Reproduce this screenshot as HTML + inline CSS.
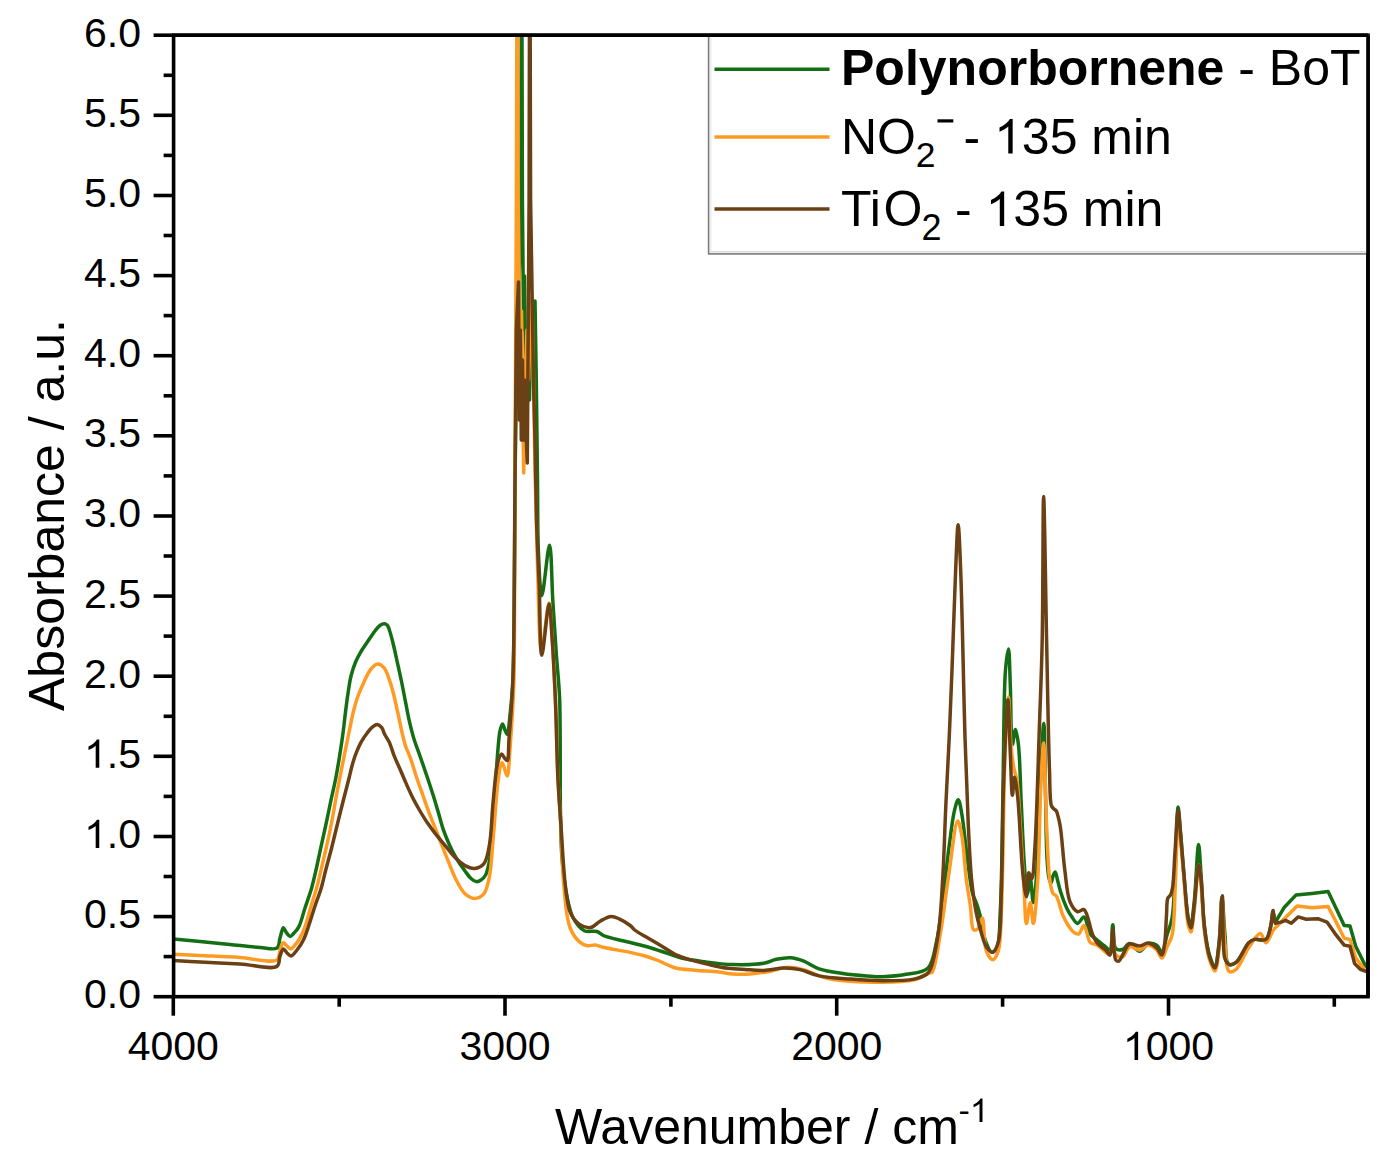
<!DOCTYPE html>
<html><head><meta charset="utf-8"><style>
html,body{margin:0;padding:0;background:#fff;}
svg{display:block;}
text{font-family:"Liberation Sans",sans-serif;fill:#000;}
</style></head><body>
<svg width="1391" height="1173" viewBox="0 0 1391 1173">
<defs><clipPath id="pc"><rect x="173.6" y="35.2" width="1194.4" height="961.5"/></clipPath></defs>
<rect width="1391" height="1173" fill="#fff"/>
<g clip-path="url(#pc)" fill="none" stroke-width="3.5" stroke-linejoin="round" stroke-linecap="round">
<path d="M173.5,939.0 C173.5,939.0 190.9,940.6 200.0,941.5 C209.7,942.4 220.0,943.5 230.0,944.5 C240.0,945.5 251.4,946.9 260.0,947.5 C266.5,947.9 273.8,950.3 277.0,948.0 C279.5,946.2 279.0,941.4 280.0,938.0 C281.1,934.6 282.1,927.9 283.3,927.7 C284.1,927.6 284.9,930.6 286.0,932.0 C287.2,933.5 288.8,936.3 290.2,936.4 C291.5,936.5 292.7,934.4 294.0,933.0 C295.6,931.3 297.3,929.6 298.8,926.8 C301.2,922.4 302.9,914.3 305.0,908.0 C307.1,901.5 309.6,894.9 311.5,888.4 C313.3,882.2 314.6,876.3 316.0,870.0 C317.5,863.5 318.8,857.0 320.3,850.0 C322.0,842.1 324.0,833.3 325.8,825.0 C327.6,816.7 329.3,808.1 331.0,800.0 C332.6,792.4 334.4,785.3 335.8,778.0 C337.2,770.7 338.4,763.4 339.6,756.0 C340.8,748.4 342.0,740.8 343.0,733.0 C344.1,724.8 345.0,715.6 346.0,708.0 C346.8,701.5 347.6,695.6 348.5,690.0 C349.3,685.0 349.8,680.7 351.0,676.0 C352.3,671.0 354.1,665.4 356.0,661.0 C357.5,657.4 359.3,654.4 361.0,651.5 C362.6,648.8 364.3,646.5 366.0,644.0 C367.8,641.4 369.7,638.4 371.4,636.0 C372.8,634.0 373.9,632.2 375.3,630.5 C376.7,628.7 378.2,626.6 379.9,625.5 C381.3,624.5 383.2,623.7 384.5,623.8 C385.6,623.9 386.6,624.5 387.5,625.5 C388.9,627.1 389.6,630.9 390.6,634.0 C391.7,637.6 392.7,641.8 393.7,646.0 C394.8,650.5 395.7,654.9 396.8,660.0 C398.2,666.2 399.9,673.7 401.3,680.5 C402.7,687.3 404.0,694.1 405.3,700.9 C406.7,707.7 407.9,714.9 409.4,721.4 C410.8,727.4 412.1,732.9 413.9,738.7 C415.8,744.9 418.4,751.3 420.5,757.5 C422.6,763.4 424.5,769.0 426.5,775.0 C428.7,781.4 431.0,788.4 433.1,795.0 C435.1,801.3 436.9,807.7 438.7,813.7 C440.3,819.3 441.6,824.6 443.4,829.9 C445.2,835.1 447.4,840.3 449.5,845.0 C451.4,849.3 453.2,852.9 455.6,857.0 C458.3,861.6 462.1,867.1 465.0,871.0 C467.2,873.9 468.9,876.7 471.0,878.5 C472.7,880.0 474.5,881.4 476.3,881.6 C477.9,881.8 479.6,880.9 481.0,880.0 C482.7,878.9 484.4,877.2 485.6,875.0 C487.3,872.0 488.1,867.2 489.0,863.0 C490.0,858.5 490.6,855.1 491.3,848.8 C492.7,836.3 493.8,809.8 495.0,792.5 C496.0,777.7 496.8,762.6 497.8,751.3 C498.5,743.3 498.9,736.0 500.0,731.0 C500.7,728.0 501.6,724.0 502.5,724.0 C503.3,724.0 504.2,728.2 505.0,730.0 C505.7,731.6 506.6,734.5 507.2,734.4 C508.5,734.2 509.2,722.7 510.0,715.3 C511.1,705.3 512.2,695.3 512.9,680.0 C514.2,651.9 514.1,597.1 514.5,560.0 L515.2,470.0 L516.0,400.0 L517.0,340.0 L518.5,310.0 L520.8,200.0 L521.3,0.0 L521.9,0.0 L522.4,200.0 L523.6,330.0 L524.5,276.0 L525.5,360.0 L526.5,420.0 L527.5,360.0 L528.5,330.0 L529.5,400.0 L530.5,340.0 L532.0,310.0 L533.5,350.0 L535.0,301.0 L536.3,380.0 L537.5,480.0 C537.8,505.7 537.5,531.0 538.4,551.2 C539.1,567.7 540.1,595.4 541.8,595.5 C543.7,595.6 547.7,545.1 549.5,545.2 C551.5,545.3 551.7,583.8 552.9,602.3 C554.0,619.8 555.1,636.8 556.3,653.5 C557.4,669.4 558.9,680.9 559.7,700.0 C560.6,722.4 559.9,790.8 560.6,820.0 C561.0,836.7 561.0,846.6 562.1,859.5 C563.2,871.9 564.7,885.3 566.9,895.9 C568.6,904.3 569.9,911.9 573.2,918.0 C576.0,923.2 580.0,928.6 584.3,930.7 C588.0,932.5 593.5,930.4 596.9,931.5 C599.5,932.3 600.4,934.2 603.3,935.5 C608.6,937.8 619.3,939.8 627.0,941.8 C634.4,943.7 641.8,945.3 648.7,947.3 C655.2,949.2 661.6,951.5 667.4,953.4 C672.4,955.0 676.1,956.7 681.4,958.0 C688.1,959.6 696.6,960.7 704.8,961.8 C713.7,963.0 723.2,964.3 732.8,964.6 C742.8,964.9 755.7,964.7 763.7,963.3 C768.9,962.4 772.0,960.2 776.4,959.3 C781.0,958.3 786.0,957.4 790.6,957.7 C795.0,958.0 798.9,959.3 803.3,960.9 C808.4,962.8 813.1,966.8 819.1,968.8 C826.1,971.2 834.9,972.3 842.8,973.5 C850.7,974.7 859.4,975.4 866.5,975.9 C872.3,976.3 876.5,976.8 882.3,976.7 C889.4,976.5 898.4,975.8 906.1,974.3 C913.6,972.9 922.8,973.0 927.8,968.2 C933.3,963.0 934.0,952.3 936.3,942.6 C939.2,930.3 940.7,915.0 942.7,900.0 C945.0,883.2 946.9,862.7 949.1,846.6 C950.9,833.4 952.4,818.8 954.5,810.4 C955.7,805.7 957.1,799.6 958.3,799.7 C959.6,799.8 960.8,808.3 961.9,814.6 C963.8,825.1 965.3,843.7 967.2,857.3 C968.9,869.9 970.4,885.1 972.6,893.5 C973.9,898.2 975.6,900.6 976.8,904.2 C978.0,907.7 978.9,910.5 980.0,914.9 C981.7,921.6 982.9,933.8 985.4,940.5 C987.2,945.3 989.5,951.9 991.8,952.2 C993.5,952.4 995.7,949.8 997.1,946.9 C1000.1,940.4 999.5,925.3 1000.3,910.6 C1001.6,888.2 1001.9,851.9 1002.4,825.3 C1002.9,801.9 1002.9,783.0 1003.4,759.4 C1003.9,731.8 1003.9,689.3 1005.5,669.9 C1006.3,660.5 1007.7,649.0 1008.5,649.0 C1009.5,649.0 1009.7,671.3 1010.3,684.8 C1011.0,702.2 1010.8,744.4 1012.4,744.5 C1013.2,744.6 1014.4,729.6 1015.4,729.6 C1016.4,729.6 1017.6,737.8 1018.4,744.5 C1020.0,757.7 1020.3,784.3 1021.3,804.2 C1022.3,824.1 1023.1,847.4 1024.3,863.9 C1025.2,875.6 1026.1,893.6 1027.3,893.7 C1028.2,893.7 1029.4,878.8 1030.3,878.8 C1031.4,878.8 1032.3,902.7 1033.3,902.7 C1034.3,902.7 1035.4,889.6 1036.3,878.8 C1038.2,856.3 1039.2,802.9 1040.7,774.3 C1041.7,754.3 1043.0,723.5 1043.8,723.5 C1044.8,723.5 1045.0,776.3 1045.6,800.0 C1046.1,820.7 1046.1,843.7 1047.0,858.0 C1047.5,866.4 1047.9,873.6 1049.0,878.0 C1049.6,880.3 1050.4,883.0 1051.0,883.0 C1051.7,883.0 1052.2,878.0 1053.0,876.0 C1053.6,874.4 1054.5,871.9 1055.2,872.0 C1056.1,872.1 1056.7,877.1 1057.5,880.0 C1058.5,883.5 1059.2,887.3 1060.5,891.5 C1062.1,896.7 1064.7,903.9 1066.9,908.5 C1068.5,911.9 1070.1,914.4 1072.0,917.0 C1073.7,919.4 1075.6,923.3 1077.6,923.4 C1079.6,923.5 1082.1,916.6 1084.0,917.0 C1086.6,917.6 1087.6,930.0 1090.3,934.0 C1092.2,936.9 1094.7,938.0 1097.1,940.1 C1099.7,942.3 1103.2,945.0 1105.6,946.9 C1107.3,948.2 1108.8,950.8 1109.9,950.3 C1112.3,949.3 1111.8,924.8 1112.8,924.8 C1113.8,924.8 1112.8,945.6 1115.8,948.6 C1117.5,950.3 1120.5,950.1 1122.6,949.5 C1125.1,948.8 1126.9,943.6 1129.5,943.5 C1132.5,943.4 1136.5,951.3 1139.7,951.2 C1142.7,951.1 1145.1,944.4 1148.2,943.5 C1150.9,942.8 1154.5,943.8 1156.8,945.2 C1159.1,946.6 1160.4,952.3 1161.9,952.0 C1164.0,951.6 1165.3,940.7 1167.0,935.0 C1168.7,929.3 1170.8,925.4 1172.1,917.9 C1174.5,904.1 1174.5,877.3 1175.5,858.2 C1176.5,840.5 1177.1,807.1 1178.1,807.1 C1178.8,807.1 1179.7,823.0 1180.6,832.6 C1181.7,845.0 1182.7,861.1 1184.0,875.3 C1185.3,889.5 1186.4,909.8 1188.3,917.9 C1189.1,921.3 1190.1,924.9 1190.9,924.8 C1192.3,924.6 1193.2,910.6 1194.3,900.9 C1195.9,886.1 1197.3,844.6 1198.6,844.6 C1199.5,844.6 1200.2,863.8 1201.1,875.3 C1202.2,890.2 1202.7,911.9 1204.5,926.5 C1205.8,937.6 1207.2,948.4 1209.6,955.5 C1211.1,959.9 1213.4,965.9 1214.8,965.7 C1216.8,965.4 1217.9,952.3 1219.0,943.5 C1220.6,930.9 1220.8,897.0 1221.9,897.0 C1222.9,897.0 1223.8,923.2 1225.0,935.0 C1226.0,945.3 1225.0,961.5 1228.4,964.0 C1230.3,965.4 1233.6,964.1 1236.1,962.4 C1240.5,959.4 1245.0,946.5 1248.8,942.8 C1250.8,940.8 1252.2,940.0 1254.5,939.4 C1257.6,938.6 1263.3,941.3 1266.0,939.4 C1268.9,937.4 1269.4,931.1 1270.6,926.7 C1271.8,922.0 1272.3,912.0 1273.1,912.0 L1275.2,922.0 L1277.5,918.7 L1284.4,907.2 L1295.9,895.1 L1312.0,893.4 L1328.1,891.6 L1335.0,906.0 L1344.2,925.6 L1350.0,926.1 L1355.7,946.3 L1364.9,964.7 L1368.0,968.0" stroke="#146e14"/>
<path d="M173.5,954.2 C173.5,954.2 190.3,955.0 200.0,955.5 C212.0,956.1 226.9,956.7 240.0,957.5 C252.6,958.2 271.5,963.7 277.0,959.9 C279.9,957.9 278.9,953.0 280.0,950.0 C281.0,947.3 281.9,943.0 283.3,942.7 C284.4,942.5 285.7,944.9 287.0,946.0 C288.2,947.0 289.5,949.1 290.8,949.0 C292.2,948.9 293.7,946.5 295.0,945.0 C296.4,943.5 297.5,942.2 298.8,940.0 C300.8,936.7 303.2,931.7 305.0,926.8 C307.1,921.2 308.6,914.3 310.5,908.0 C312.4,901.5 314.7,894.9 316.5,888.4 C318.2,882.2 319.5,876.3 321.0,870.0 C322.6,863.5 324.2,856.4 325.7,850.0 C327.1,844.1 328.3,838.8 329.5,833.0 C330.7,827.1 331.9,821.2 333.0,815.0 C334.2,808.5 335.2,801.9 336.5,795.0 C337.9,787.4 339.4,779.7 341.1,771.3 C343.0,761.7 345.2,750.9 347.3,740.7 C349.4,730.5 351.7,718.2 353.8,710.0 C355.2,704.4 356.3,700.6 358.0,696.0 C359.7,691.3 361.8,686.4 364.0,681.9 C366.1,677.5 368.3,672.1 371.0,669.0 C373.0,666.7 375.5,664.2 377.7,664.1 C379.8,664.0 382.3,665.9 384.1,667.9 C386.4,670.5 387.7,675.3 389.2,679.4 C390.9,684.0 392.2,688.9 393.6,694.3 C395.2,700.5 396.7,707.7 398.2,714.5 C399.7,721.3 401.2,729.2 402.6,735.0 C403.6,739.2 404.3,742.3 405.5,746.0 C406.8,749.8 408.6,753.2 410.2,757.5 C412.2,762.9 414.1,770.0 416.2,776.2 C418.3,782.5 420.6,788.7 422.8,795.0 C425.0,801.2 427.1,807.7 429.4,813.7 C431.5,819.3 433.5,823.8 435.9,829.9 C439.0,837.6 442.9,847.9 446.3,856.3 C449.5,864.1 452.2,872.2 455.6,878.8 C458.5,884.4 461.3,890.5 465.0,893.8 C467.8,896.3 471.3,898.4 474.4,898.4 C477.5,898.4 481.4,896.5 483.8,893.8 C486.9,890.2 487.9,883.7 489.4,876.9 C491.5,867.0 491.8,853.2 493.1,839.4 C494.6,822.5 496.2,796.4 497.8,783.1 C498.7,775.7 499.4,769.5 500.5,766.0 C501.0,764.3 501.5,762.4 502.2,762.4 C503.5,762.5 505.9,776.2 507.1,776.1 C508.8,775.9 509.1,759.8 510.0,748.6 C511.4,730.9 513.0,708.3 513.9,680.0 C514.8,650.9 514.5,567.6 514.8,500.0 L516.4,200.0 L516.9,0.0 L517.6,0.0 L518.2,200.0 L519.8,330.0 L521.5,311.0 L522.6,400.0 L523.7,473.0 L524.8,420.0 L525.8,360.0 L527.0,330.0 L528.5,380.0 L530.0,340.0 L532.0,298.0 L533.5,380.0 L535.0,470.0 L537.5,565.0 C538.6,594.1 539.0,649.9 541.5,650.0 C543.4,650.1 547.2,602.9 549.0,603.0 C550.5,603.1 551.1,623.6 552.0,636.5 C553.3,654.3 554.4,677.6 555.4,700.0 C556.5,725.1 556.9,757.9 558.0,780.0 C558.8,795.6 559.8,805.1 560.6,820.0 C561.7,838.7 561.9,864.1 563.7,883.3 C565.2,899.4 566.0,917.1 570.0,927.5 C572.5,933.9 576.0,938.8 579.5,941.8 C582.0,944.0 584.7,945.2 587.4,945.7 C590.0,946.2 592.8,944.7 595.4,945.0 C598.1,945.3 599.9,946.5 603.3,947.3 C609.5,948.8 622.4,950.8 630.0,952.4 C635.7,953.6 640.2,954.6 645.0,956.0 C649.5,957.3 654.0,958.9 658.0,960.5 C661.6,961.9 664.8,963.7 668.0,965.0 C671.0,966.2 673.2,967.5 676.7,968.3 C681.7,969.5 688.8,969.6 695.4,970.2 C702.8,970.9 712.0,971.4 718.8,972.1 C724.1,972.7 727.9,973.6 732.8,973.9 C738.2,974.3 744.1,974.4 750.0,974.0 C756.2,973.6 762.7,972.6 769.0,971.5 C775.2,970.4 781.5,967.4 787.4,967.2 C792.9,967.0 797.6,968.1 803.3,969.6 C810.5,971.4 817.3,976.2 827.0,978.3 C841.4,981.4 866.4,982.2 882.3,982.2 C894.3,982.2 905.4,982.1 914.0,979.9 C920.3,978.3 926.9,973.6 929.8,972.8 C930.8,972.5 931.3,973.2 932.0,972.5 C935.1,969.6 938.0,946.9 940.6,932.0 C943.8,914.1 946.1,891.3 949.1,872.2 C951.9,854.5 955.0,821.1 957.7,821.0 C959.2,820.9 960.7,829.7 961.9,836.0 C963.9,846.5 964.6,865.9 966.2,878.6 C967.5,888.8 969.1,897.4 970.4,906.3 C971.6,914.5 971.0,928.0 973.6,929.8 C974.7,930.6 976.7,929.8 977.9,928.7 C979.9,927.0 981.0,917.9 982.2,918.1 C984.3,918.4 983.5,943.9 986.4,951.1 C988.0,955.2 990.8,959.8 992.8,959.7 C994.7,959.6 996.8,955.3 998.2,951.1 C1001.0,942.8 1000.5,928.4 1001.4,910.6 C1003.2,876.2 1003.3,798.9 1004.9,759.4 C1005.9,734.0 1007.5,696.7 1008.5,696.7 C1009.4,696.7 1009.7,731.3 1010.9,744.5 C1011.7,753.9 1012.7,761.8 1013.9,768.4 C1014.8,773.1 1016.1,775.1 1016.9,780.3 C1018.4,789.5 1018.9,804.1 1019.9,819.1 C1021.3,839.9 1023.1,874.4 1024.3,893.7 C1025.1,905.9 1025.2,923.5 1026.4,923.6 C1027.4,923.7 1029.1,902.7 1030.3,902.7 C1031.4,902.7 1032.3,923.6 1033.3,923.6 C1034.8,923.6 1036.6,896.3 1037.8,878.8 C1039.4,854.1 1039.5,814.3 1040.7,789.3 C1041.6,771.3 1042.7,743.0 1043.6,743.0 C1044.8,743.0 1045.5,802.7 1046.7,827.7 C1047.7,847.5 1048.1,869.3 1049.9,880.9 C1050.8,886.6 1051.5,891.2 1053.1,893.6 C1054.0,894.9 1055.3,894.6 1056.3,896.0 C1058.6,899.2 1060.5,909.7 1062.7,914.9 C1064.4,918.9 1066.1,922.0 1068.0,925.0 C1069.7,927.6 1071.3,930.4 1073.3,931.9 C1074.9,933.1 1077.0,934.5 1078.6,934.0 C1080.7,933.3 1082.3,925.3 1084.0,925.5 C1086.3,925.7 1087.3,939.6 1090.3,942.6 C1092.2,944.5 1094.7,943.7 1097.0,945.0 C1099.8,946.6 1103.2,950.2 1105.6,952.0 C1107.3,953.2 1108.8,955.5 1109.9,955.0 C1112.1,954.1 1111.8,935.0 1112.8,935.0 C1113.8,935.0 1113.0,951.8 1115.8,955.0 C1117.4,956.9 1120.6,957.7 1122.6,957.0 C1125.3,956.1 1126.5,948.1 1129.5,947.0 C1132.3,946.0 1136.5,950.4 1139.7,950.0 C1142.7,949.6 1145.4,945.0 1148.2,945.0 C1151.1,945.0 1154.5,947.8 1156.8,950.0 C1159.0,952.2 1160.3,958.1 1161.9,958.0 C1163.7,957.9 1165.3,950.8 1167.0,947.0 C1168.7,943.1 1170.8,940.6 1172.1,935.0 C1174.8,923.5 1174.5,898.8 1175.5,880.0 C1176.5,860.2 1176.9,819.0 1178.1,819.0 C1178.8,819.0 1179.8,831.9 1180.6,840.0 C1181.7,851.2 1182.8,866.3 1184.0,880.0 C1185.3,894.6 1186.4,916.6 1188.3,925.0 C1189.1,928.4 1190.1,932.1 1190.9,932.0 C1192.3,931.9 1193.2,918.6 1194.3,910.0 C1195.8,897.7 1197.3,865.0 1198.6,865.0 C1199.5,865.0 1200.3,876.9 1201.1,885.0 C1202.3,897.4 1202.8,918.4 1204.5,932.0 C1205.8,942.6 1207.3,952.9 1209.6,960.0 C1211.1,964.6 1213.4,971.2 1214.8,971.0 C1216.7,970.8 1217.9,958.5 1219.0,950.0 C1220.7,936.9 1220.9,900.0 1221.9,900.0 C1222.9,900.0 1223.5,932.0 1225.0,945.0 C1226.1,955.1 1225.8,969.5 1229.2,971.6 C1231.0,972.7 1233.8,971.2 1236.1,969.3 C1240.4,965.8 1244.4,953.7 1248.8,947.4 C1252.5,942.1 1257.2,933.4 1260.3,933.6 C1262.7,933.8 1264.0,942.8 1266.0,942.8 C1268.5,942.8 1270.9,933.1 1274.1,929.0 L1284.4,918.7 L1297.1,906.0 L1312.0,907.7 L1328.1,906.6 L1335.0,919.8 L1344.2,938.2 L1350.0,939.4 L1355.7,957.8 L1364.9,970.4 L1368.0,972.0" stroke="#ff9b23"/>
<path d="M173.5,960.5 C173.5,960.5 190.3,961.5 200.0,962.0 C212.0,962.6 226.9,963.3 240.0,964.0 C252.6,964.7 271.5,970.2 277.0,966.3 C280.0,964.2 278.8,959.1 280.0,956.0 C281.0,953.4 282.0,949.2 283.3,949.0 C284.4,948.8 285.7,951.8 287.0,953.0 C288.3,954.1 289.6,956.0 291.0,955.9 C292.9,955.8 295.1,952.4 297.0,950.0 C299.3,947.2 301.6,943.7 303.4,940.0 C305.4,936.0 306.7,931.7 308.4,926.8 C310.5,920.7 312.8,912.6 315.0,906.0 C317.0,899.9 319.3,894.4 321.1,888.4 C323.0,882.1 324.3,875.4 326.0,869.0 C327.7,862.6 329.5,856.1 331.1,850.0 C332.5,844.4 333.7,839.5 335.0,834.0 C336.4,828.2 338.0,821.8 339.4,816.0 C340.8,810.5 342.0,805.7 343.4,800.0 C345.1,793.5 347.2,785.5 348.8,779.0 C350.2,773.5 351.2,768.4 352.6,763.7 C353.8,759.6 355.0,755.9 356.5,752.2 C357.9,748.7 359.3,745.4 361.1,742.2 C362.9,739.0 365.1,735.7 367.2,733.0 C369.0,730.7 370.7,728.3 372.6,726.9 C374.1,725.8 375.7,724.5 377.2,724.6 C378.8,724.7 380.6,726.2 381.8,727.6 C383.1,729.2 383.4,731.8 384.5,734.0 C385.8,736.6 387.7,739.0 389.2,742.1 C391.1,746.1 392.5,751.8 394.3,756.2 C395.9,760.3 397.6,763.7 399.4,767.7 C401.4,772.2 403.4,777.3 405.5,782.0 C407.5,786.6 409.4,791.0 411.6,795.5 C413.9,800.2 416.5,804.9 419.1,809.5 C421.8,814.1 424.5,818.6 427.5,823.0 C430.5,827.3 433.7,831.6 436.9,835.6 C440.0,839.5 443.2,843.1 446.3,846.9 C449.4,850.6 452.3,854.9 455.6,858.1 C458.6,861.0 461.7,863.9 465.0,865.6 C468.0,867.2 471.3,868.7 474.4,868.4 C477.6,868.1 481.4,866.6 483.8,863.8 C487.1,859.9 488.0,852.6 489.4,845.0 C491.6,833.7 491.7,815.9 493.1,801.9 C494.5,788.5 495.5,770.7 497.8,762.5 C498.9,758.6 500.3,754.2 501.6,754.1 C502.5,754.0 503.5,756.9 504.5,758.0 C505.4,759.0 506.5,760.9 507.2,760.6 C508.9,760.0 508.3,747.8 509.0,738.8 C510.1,724.0 511.9,705.4 512.9,680.0 C514.7,633.1 514.4,541.9 515.0,480.0 L516.4,330.0 L518.5,282.0 L519.3,420.0 L520.3,330.0 L521.3,440.0 L522.5,360.0 L523.5,440.0 L524.5,380.0 L525.5,420.0 L527.3,463.0 L529.1,200.0 L529.5,0.0 L530.1,0.0 L530.6,200.0 L532.2,300.0 L533.5,380.0 L535.0,440.0 L536.5,520.0 C537.2,542.8 538.3,562.9 539.2,585.0 C540.1,607.9 539.9,655.1 541.8,655.2 C543.5,655.3 547.3,604.0 549.1,604.0 C550.5,604.0 551.1,623.9 552.0,636.5 C553.3,654.1 554.4,677.6 555.4,700.0 C556.5,725.1 556.9,757.9 558.0,780.0 C558.8,795.6 559.3,804.0 560.6,820.0 C562.6,844.3 563.7,895.5 570.0,911.7 C572.6,918.4 575.7,921.8 579.5,924.4 C582.7,926.6 587.2,928.0 590.6,927.5 C594.0,927.0 596.7,923.0 600.1,921.2 C603.6,919.3 607.8,916.7 611.2,916.5 C614.0,916.3 616.3,917.6 619.1,918.8 C622.6,920.3 627.4,923.3 630.2,925.5 C632.1,927.0 632.7,928.4 634.7,930.0 C638.0,932.6 644.0,935.6 648.7,938.4 C653.4,941.2 658.0,944.0 662.7,946.8 C667.4,949.6 671.9,953.0 676.7,955.2 C681.3,957.3 685.7,958.4 690.7,959.9 C696.5,961.6 703.1,963.2 709.4,964.6 C715.6,966.0 722.0,967.5 728.1,968.3 C733.9,969.1 739.2,969.2 745.0,969.5 C751.1,969.9 757.3,970.6 763.7,970.4 C770.4,970.2 777.9,968.0 784.3,968.0 C789.9,968.0 794.7,968.4 800.1,969.6 C806.2,970.9 811.9,974.4 819.1,975.9 C828.2,977.8 840.2,978.3 850.7,979.1 C861.2,979.9 871.8,980.7 882.3,980.7 C892.9,980.7 905.9,980.8 914.0,979.1 C919.3,978.0 923.9,976.2 926.6,974.3 C928.3,973.1 928.8,972.5 929.9,970.3 C932.9,964.2 936.4,945.9 938.5,932.0 C940.9,915.8 941.5,897.9 942.7,878.6 C944.1,855.8 944.8,827.9 945.9,804.0 C946.9,781.8 948.1,761.8 949.1,740.0 C950.1,717.2 951.0,695.3 952.0,670.0 C953.2,639.9 954.4,598.2 955.6,571.4 C956.4,553.0 957.3,524.7 958.1,524.7 C959.0,524.7 959.9,551.0 960.7,571.4 C962.3,610.1 963.6,693.3 965.1,740.0 C966.2,773.2 967.1,800.2 968.3,825.3 C969.3,845.2 970.0,863.1 971.5,878.6 C972.7,890.6 974.0,901.0 975.8,910.6 C977.3,918.5 979.2,925.6 981.1,932.0 C982.7,937.5 984.0,943.4 986.4,946.9 C988.2,949.4 990.9,952.5 992.8,952.2 C995.0,951.8 996.8,947.3 998.2,942.6 C1001.3,932.2 1000.6,909.8 1001.4,889.3 C1002.5,861.2 1002.3,821.7 1003.4,789.3 C1004.5,758.6 1006.7,699.7 1007.9,699.7 C1008.9,699.7 1009.5,736.6 1010.3,753.4 C1011.0,768.2 1011.5,795.2 1012.4,795.2 C1013.0,795.2 1013.7,777.3 1014.5,777.3 C1015.4,777.3 1016.5,787.1 1017.5,795.2 C1019.5,812.0 1020.8,854.4 1022.8,872.8 C1023.9,883.1 1025.4,896.7 1026.4,896.7 C1027.4,896.7 1027.3,873.1 1028.8,872.8 C1029.6,872.7 1031.0,879.0 1031.8,878.8 C1033.6,878.5 1033.9,862.3 1034.8,849.0 C1036.6,822.5 1038.0,766.5 1039.3,729.6 C1040.4,697.6 1041.5,673.4 1042.2,640.0 C1043.1,597.8 1042.9,496.4 1043.6,496.4 C1044.4,496.4 1045.7,597.6 1046.7,645.0 C1047.6,688.5 1048.4,740.9 1049.5,770.0 C1050.1,785.6 1049.5,800.9 1051.5,806.0 C1052.2,807.7 1053.1,808.1 1054.0,809.0 C1054.8,809.8 1055.6,810.0 1056.3,811.0 C1057.3,812.5 1057.8,815.4 1058.5,818.0 C1059.3,821.0 1059.8,823.5 1060.5,828.0 C1061.9,837.2 1063.1,857.0 1064.8,870.0 C1066.3,881.4 1066.9,894.7 1070.1,902.0 C1072.1,906.5 1074.9,910.9 1077.6,911.7 C1079.6,912.3 1082.1,908.7 1084.0,909.6 C1087.7,911.4 1089.8,927.9 1092.4,934.0 C1094.0,937.8 1095.0,940.4 1097.1,943.0 C1099.3,945.7 1103.3,947.8 1105.6,950.0 C1107.4,951.7 1108.8,955.3 1109.9,955.0 C1112.1,954.3 1111.9,930.0 1112.8,930.0 C1113.8,930.0 1113.2,956.7 1115.8,960.0 C1116.7,961.1 1118.0,961.4 1119.0,961.0 C1120.4,960.5 1121.2,957.3 1122.6,955.0 C1124.5,951.9 1126.4,945.3 1129.5,944.0 C1132.3,942.8 1136.5,946.2 1139.7,946.0 C1142.7,945.8 1145.4,942.7 1148.2,943.0 C1151.1,943.3 1154.5,945.9 1156.8,948.0 C1159.0,950.0 1160.6,955.2 1161.9,955.0 C1163.3,954.7 1163.8,949.3 1164.5,945.0 C1165.7,937.7 1165.9,923.6 1166.5,915.0 C1167.0,908.5 1166.5,901.2 1167.9,898.0 C1168.6,896.4 1169.8,896.3 1170.5,895.0 C1171.5,893.2 1171.9,891.3 1172.5,888.0 C1173.8,880.7 1174.1,864.5 1175.0,852.0 C1176.0,838.5 1177.0,810.0 1178.1,810.0 C1178.9,810.0 1179.7,825.7 1180.6,835.0 C1181.7,846.8 1182.8,861.3 1184.0,875.0 C1185.3,889.6 1186.5,911.2 1188.3,920.0 C1189.1,923.8 1190.1,928.1 1190.9,928.0 C1192.2,927.9 1193.2,913.7 1194.3,905.0 C1195.8,893.5 1197.2,865.0 1198.6,865.0 C1199.5,865.0 1200.3,873.6 1201.1,880.0 C1202.5,891.5 1202.8,914.0 1204.5,928.0 C1205.8,938.9 1207.3,949.7 1209.6,957.0 C1211.1,961.7 1213.4,968.2 1214.8,968.0 C1216.8,967.7 1217.9,954.1 1219.0,945.0 C1220.7,931.7 1221.4,895.7 1222.3,895.7 C1223.3,895.7 1222.3,950.7 1224.6,957.8 C1225.8,961.5 1227.2,964.0 1229.2,964.7 C1231.1,965.3 1233.8,964.2 1236.1,962.4 C1240.3,959.2 1245.0,946.5 1248.8,942.8 C1250.8,940.8 1252.2,940.0 1254.5,939.4 C1257.6,938.6 1263.3,941.3 1266.0,939.4 C1268.9,937.4 1269.4,931.2 1270.6,926.7 C1271.9,921.7 1272.3,910.6 1273.1,910.6 L1275.2,923.3 L1281.0,922.1 L1285.6,920.4 L1291.3,923.3 L1298.2,916.9 L1306.3,919.2 L1317.8,918.7 L1327.0,922.1 L1335.0,933.6 L1344.2,945.1 L1350.0,946.3 L1354.6,963.5 L1360.3,969.3 L1368.0,972.1" stroke="#6b4014"/>
</g>
<g stroke="#000" stroke-width="3.6" fill="none">
<rect x="173.6" y="35.2" width="1194.4" height="961.5"/>
<line x1="153.6" y1="996.7" x2="173.6" y2="996.7"/><line x1="163.6" y1="956.6" x2="173.6" y2="956.6"/><line x1="153.6" y1="916.6" x2="173.6" y2="916.6"/><line x1="163.6" y1="876.5" x2="173.6" y2="876.5"/><line x1="153.6" y1="836.5" x2="173.6" y2="836.5"/><line x1="163.6" y1="796.4" x2="173.6" y2="796.4"/><line x1="153.6" y1="756.3" x2="173.6" y2="756.3"/><line x1="163.6" y1="716.3" x2="173.6" y2="716.3"/><line x1="153.6" y1="676.2" x2="173.6" y2="676.2"/><line x1="163.6" y1="636.1" x2="173.6" y2="636.1"/><line x1="153.6" y1="596.1" x2="173.6" y2="596.1"/><line x1="163.6" y1="556.0" x2="173.6" y2="556.0"/><line x1="153.6" y1="516.0" x2="173.6" y2="516.0"/><line x1="163.6" y1="475.9" x2="173.6" y2="475.9"/><line x1="153.6" y1="435.8" x2="173.6" y2="435.8"/><line x1="163.6" y1="395.8" x2="173.6" y2="395.8"/><line x1="153.6" y1="355.7" x2="173.6" y2="355.7"/><line x1="163.6" y1="315.6" x2="173.6" y2="315.6"/><line x1="153.6" y1="275.6" x2="173.6" y2="275.6"/><line x1="163.6" y1="235.5" x2="173.6" y2="235.5"/><line x1="153.6" y1="195.5" x2="173.6" y2="195.5"/><line x1="163.6" y1="155.4" x2="173.6" y2="155.4"/><line x1="153.6" y1="115.3" x2="173.6" y2="115.3"/><line x1="163.6" y1="75.3" x2="173.6" y2="75.3"/><line x1="153.6" y1="35.2" x2="173.6" y2="35.2"/><line x1="173.3" y1="996.7" x2="173.3" y2="1015.7"/><line x1="505.0" y1="996.7" x2="505.0" y2="1015.7"/><line x1="836.7" y1="996.7" x2="836.7" y2="1015.7"/><line x1="1168.5" y1="996.7" x2="1168.5" y2="1015.7"/><line x1="339.2" y1="996.7" x2="339.2" y2="1006.7"/><line x1="670.9" y1="996.7" x2="670.9" y2="1006.7"/><line x1="1002.6" y1="996.7" x2="1002.6" y2="1006.7"/><line x1="1334.3" y1="996.7" x2="1334.3" y2="1006.7"/>
</g>
<g font-size="41">
<text x="84.00" y="1008.20" font-size="41">0.0</text><text x="84.00" y="928.08" font-size="41">0.5</text><text x="84.00" y="847.95" font-size="41"> .0</text><path d="M99.28,847.95L95.68,847.95L95.68,825.91Q94.37,827.10 92.27,828.29Q90.17,829.48 88.49,830.08L88.49,826.73Q91.51,825.37 93.77,823.43Q96.04,821.49 96.98,819.66L99.28,819.66Z" fill="#000"/><text x="84.00" y="767.83" font-size="41"> .5</text><path d="M99.28,767.83L95.68,767.83L95.68,745.78Q94.37,746.97 92.27,748.16Q90.17,749.36 88.49,749.95L88.49,746.61Q91.51,745.24 93.77,743.30Q96.04,741.36 96.98,739.54L99.28,739.54Z" fill="#000"/><text x="84.00" y="687.70" font-size="41">2.0</text><text x="84.00" y="607.58" font-size="41">2.5</text><text x="84.00" y="527.45" font-size="41">3.0</text><text x="84.00" y="447.33" font-size="41">3.5</text><text x="84.00" y="367.20" font-size="41">4.0</text><text x="84.00" y="287.08" font-size="41">4.5</text><text x="84.00" y="206.95" font-size="41">5.0</text><text x="84.00" y="126.83" font-size="41">5.5</text><text x="84.00" y="46.70" font-size="41">6.0</text>
<text x="127.70" y="1060.00" font-size="41">4000</text><text x="459.42" y="1060.00" font-size="41">3000</text><text x="791.14" y="1060.00" font-size="41">2000</text><text x="1122.86" y="1060.00" font-size="41"> 000</text><path d="M1138.13,1060.00L1134.53,1060.00L1134.53,1037.96Q1133.23,1039.15 1131.12,1040.34Q1129.02,1041.53 1127.34,1042.13L1127.34,1038.78Q1130.36,1037.42 1132.63,1035.48Q1134.89,1033.54 1135.83,1031.71L1138.13,1031.71Z" fill="#000"/>
</g>
<text x="555" y="1143.5" font-size="50">Wavenumber / cm</text>
<text x="958.50" y="1122.00" font-size="34">- </text><path d="M982.49,1122.00L979.50,1122.00L979.50,1103.72Q978.42,1104.71 976.68,1105.70Q974.94,1106.68 973.54,1107.18L973.54,1104.40Q976.05,1103.27 977.92,1101.66Q979.80,1100.05 980.58,1098.54L982.49,1098.54Z" fill="#000"/>
<text transform="translate(63.5,711) rotate(-90)" font-size="50">Absorbance / a.u.</text>
<!-- legend -->
<rect x="708.6" y="35.5" width="659.4" height="218.4" fill="#fff" stroke="#7a7a7a" stroke-width="1.6"/>
<line x1="710.8" y1="38" x2="710.8" y2="251.5" stroke="#ececec" stroke-width="1.5"/>
<line x1="710" y1="251.8" x2="1368" y2="251.8" stroke="#dcdcdc" stroke-width="1.5"/>
<line x1="173.6" y1="35.2" x2="1368" y2="35.2" stroke="#000" stroke-width="3.6"/>
<line x1="1368" y1="35.2" x2="1368" y2="996.7" stroke="#000" stroke-width="3.6"/>
<g stroke-width="3.5">
<line x1="714.5" y1="69.3" x2="829.5" y2="69.3" stroke="#146e14"/>
<line x1="714.5" y1="137" x2="829.5" y2="137" stroke="#ff9b23"/>
<line x1="714.5" y1="209" x2="829.5" y2="209" stroke="#6b4014"/>
</g>
<g font-size="50">
<text x="841" y="85.3"><tspan font-weight="bold">Polynorbornene</tspan> - BoT</text>
<text x="841" y="153.5">NO</text>
<text x="915.8" y="166.8" font-size="35.5">2</text>
<rect x="937.5" y="119.3" width="15.8" height="3.2" fill="#000"/>
<text x="963.50" y="153.50" font-size="50">-  35 min</text><path d="M1012.67,153.50L1008.28,153.50L1008.28,126.62Q1006.69,128.07 1004.12,129.52Q1001.56,130.98 999.51,131.70L999.51,127.62Q1003.20,125.96 1005.96,123.59Q1008.71,121.23 1009.86,119.00L1012.67,119.00Z" fill="#000"/>
<text x="841" y="226">Ti</text>
<text x="883.5" y="226">O</text>
<text x="921.5" y="240.3" font-size="36">2</text>
<text x="955.00" y="226.00" font-size="50">-  35 min</text><path d="M1004.17,226.00L999.78,226.00L999.78,199.12Q998.19,200.57 995.62,202.02Q993.06,203.48 991.01,204.20L991.01,200.12Q994.70,198.46 997.46,196.09Q1000.21,193.73 1001.36,191.50L1004.17,191.50Z" fill="#000"/>
</g>
</svg>
</body></html>
